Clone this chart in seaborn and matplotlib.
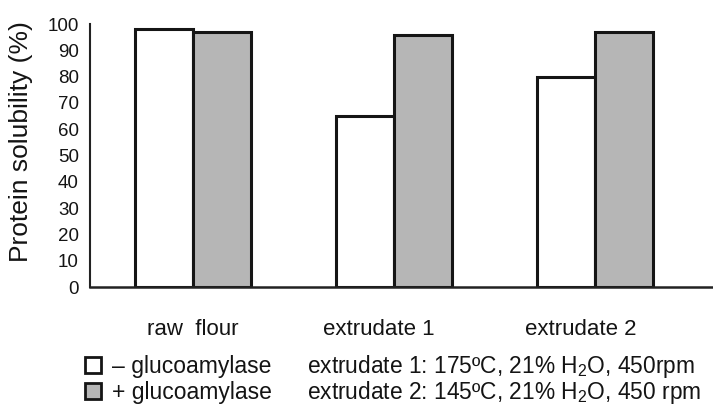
import matplotlib
matplotlib.use("Agg")
import matplotlib.pyplot as plt
import matplotlib.transforms as mtransforms
from matplotlib.patches import Patch
import seaborn as sns
import pandas as pd

categories = ["raw  flour", "extrudate 1", "extrudate 2"]
treatments = ["\u2013 glucoamylase", "+ glucoamylase"]
minus_gluco = [98, 65, 80]
plus_gluco = [97, 96, 97]
y_ticks = [0, 10, 20, 30, 40, 50, 60, 70, 80, 90, 100]
notes = ["extrudate 1: 175\u00baC, 21% H$_2$O, 450rpm",
         "extrudate 2: 145\u00baC, 21% H$_2$O, 450 rpm"]

df = pd.DataFrame({
    "category": categories * 2,
    "treatment": [treatments[0]] * 3 + [treatments[1]] * 3,
    "value": minus_gluco + plus_gluco,
})

sns.set_style("white")
plt.rcParams["font.family"] = ["Liberation Sans", "DejaVu Sans"]
plt.rcParams["mathtext.fontset"] = "custom"
plt.rcParams["mathtext.rm"] = "Liberation Sans"
plt.rcParams["mathtext.it"] = "Liberation Sans:italic"

txt = "#141414"
fig = plt.figure(figsize=(7.13, 4.05), dpi=100)
ax = fig.add_axes([90 / 713, (405 - 287) / 405, (713 - 90) / 713, (287 - 24) / 405])

sns.barplot(data=df, x="category", y="value", hue="treatment",
            palette=["white", "#b6b6b6"], edgecolor="#151515", linewidth=2.2,
            width=0.578, ax=ax, legend=False)

ax.set_xlim(-0.512, 2.587)
ax.set_ylim(0, 100)
ax.set_yticks(y_ticks)
ax.set_yticklabels([str(t) for t in y_ticks])
ax.tick_params(axis="y", length=0, pad=8, labelsize=13.5, colors=txt)
ax.tick_params(axis="x", length=0, pad=23, labelsize=16, colors=txt)
ax.set_xlabel("")
ax.set_ylabel("Protein solubility (%)", fontsize=19, color=txt)
ax.yaxis.set_label_coords((33 - 90) / 623, (287 - 141.5) / 263)

offsets = [0, -15, -14]
for lab, dx in zip(ax.get_xticklabels(), offsets):
    lab.set_transform(lab.get_transform() + mtransforms.ScaledTranslation(dx / 100, 0, fig.dpi_scale_trans))

for side in ["top", "right"]:
    ax.spines[side].set_visible(False)
ax.spines["left"].set_color("#222222")
ax.spines["left"].set_linewidth(1.5)
ax.spines["bottom"].set_color("#222222")
ax.spines["bottom"].set_linewidth(1.8)

leg_handles = [Patch(facecolor="white", edgecolor="#151515", linewidth=2.0),
               Patch(facecolor="#b6b6b6", edgecolor="#151515", linewidth=2.0)]
leg = fig.legend(leg_handles, treatments, loc="upper left",
                 bbox_to_anchor=(85 / 713, 1 - 355 / 405), frameon=False,
                 fontsize=16.5, handlelength=0.7, handleheight=0.7,
                 handletextpad=0.5, labelspacing=0.12, borderaxespad=0,
                 borderpad=0)
for t in leg.get_texts():
    t.set_color(txt)

for i, note in enumerate(notes):
    fig.text(307 / 713, 1 - (367 + 26 * i) / 405, note, fontsize=16.4,
             color=txt, va="center", ha="left")

fig.savefig("out.png", dpi=100)
